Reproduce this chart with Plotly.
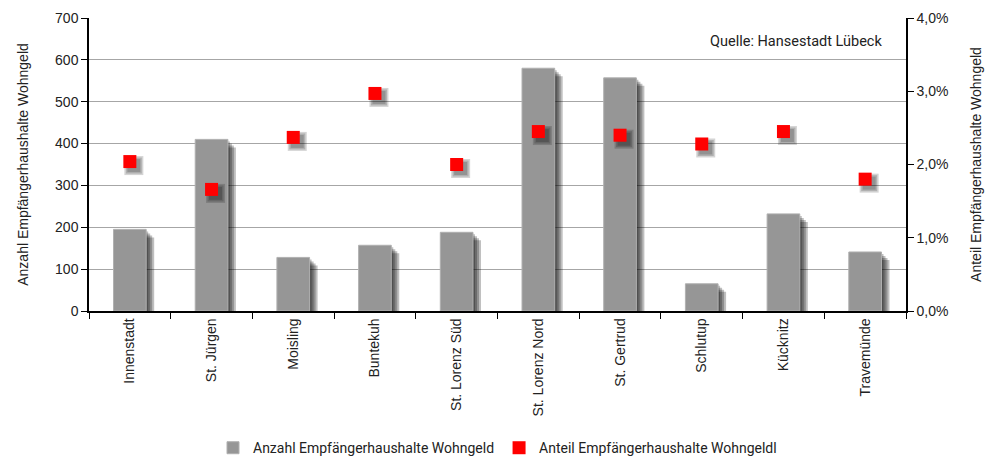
import plotly.graph_objects as go

# ----------------------------------------------------------------------------------------------------------------------
# Data
# ----------------------------------------------------------------------------------------------------------------------
stadtteile = ["Innenstadt", "St. Jürgen", "Moisling", "Buntekuh", "St. Lorenz Süd",
              "St. Lorenz Nord", "St. Gertrud", "Schlutup", "Kücknitz", "Travemünde"]
anzahl = [195, 410, 128, 157, 188, 580, 557, 65, 232, 141]
anteil = [0.0204, 0.0166, 0.0237, 0.0297, 0.0200, 0.0245, 0.0240, 0.0228, 0.0245, 0.0180]

# ----------------------------------------------------------------------------------------------------------------------
# Figure
# ----------------------------------------------------------------------------------------------------------------------
pos = list(range(len(stadtteile)))
px_x = 1 / 81.7      # ein Pixel in Kategorie-Einheiten
px_y1 = 700 / 293    # ein Pixel auf der linken Achse
px_y2 = 0.04 / 293   # ein Pixel auf der rechten Achse

fig = go.Figure()

# Schatten der Balken (mehrere Lagen = weicher Rand)
for d in [8, 6, 4, 2]:
    fig.add_trace(go.Bar(x=stadtteile, y=anzahl, base=-d * px_y1, offset=-0.2 + d * px_x, width=0.4,
                         marker=dict(color="rgba(0,0,0,0.25)", line_width=0),
                         showlegend=False, hoverinfo="skip"))
fig.add_trace(go.Bar(x=stadtteile, y=anzahl, offset=-0.2, width=0.4,
                     name="Anzahl Empfängerhaushalte Wohngeld",
                     marker=dict(color="#969696", line=dict(color="#b0b0b0", width=1))))

# Schatten der Punkte
for s in [19, 16, 13]:
    fig.add_trace(go.Scatter(x=[p + 4 * px_x for p in pos], y=[v - 4 * px_y2 for v in anteil],
                             xaxis="x2", yaxis="y2", mode="markers",
                             marker=dict(symbol="square", size=s, color="rgba(0,0,0,0.17)", line_width=0),
                             showlegend=False, hoverinfo="skip"))
fig.add_trace(go.Scatter(x=pos, y=anteil, xaxis="x2", yaxis="y2", mode="markers",
                         name="Anteil Empfängerhaushalte Wohngeldl",
                         marker=dict(symbol="square", size=13, color="#ff0000", line_width=0)))

axis_font = dict(family="Liberation Sans, Arial", size=14, color="#222")

fig.update_layout(
    width=986, height=460,
    margin=dict(l=89, r=80, t=18, b=149, autoexpand=False),
    plot_bgcolor="white", paper_bgcolor="white",
    barmode="overlay", separators=",.",
    font=dict(family="Roboto", size=14, color="#222"),
    xaxis=dict(type="category", tickson="boundaries", ticks="outside", ticklen=6,
               tickcolor="black", showline=True, linecolor="black", linewidth=1.5,
               tickangle=-90, tickfont=axis_font, showgrid=False, range=[-0.5, 9.5],
               automargin=False),
    xaxis2=dict(overlaying="x", range=[-0.5, 9.5], visible=False),
    yaxis=dict(range=[0, 700], dtick=100, ticks="outside", ticklen=6, tickcolor="black",
               showline=True, linecolor="black", linewidth=1.5, tickfont=axis_font,
               gridcolor="#a6a6a6", gridwidth=1.3, zeroline=False, automargin=False,
               title=dict(text="Anzahl Empfängerhaushalte Wohngeld", font=axis_font, standoff=23)),
    yaxis2=dict(overlaying="y", side="right", range=[0, 0.04], dtick=0.01, tickformat=".1%",
                ticks="outside", ticklen=6, tickcolor="black", showline=True, linecolor="black",
                linewidth=1.5, tickfont=axis_font, showgrid=False, zeroline=False, automargin=False,
                title=dict(text="Anteil Empfängerhaushalte Wohngeld", font=axis_font, standoff=24)),
    legend=dict(orientation="h", x=0.5, xanchor="center", y=-0.468, yanchor="middle",
                font=dict(family="Roboto", size=14, color="#222")),
    annotations=[dict(text="Quelle: Hansestadt Lübeck", xref="paper", yref="paper",
                      x=0.973, y=0.921, xanchor="right", yanchor="middle", showarrow=False,
                      font=dict(family="Roboto", size=14.5, color="#222"))],
)

# Standard-Rand der Seite entfernen, damit die Figur bei (0, 0) beginnt
fig.write_html("out.html", config={"displayModeBar": False},
               post_script="document.body.style.margin = '0px';")
